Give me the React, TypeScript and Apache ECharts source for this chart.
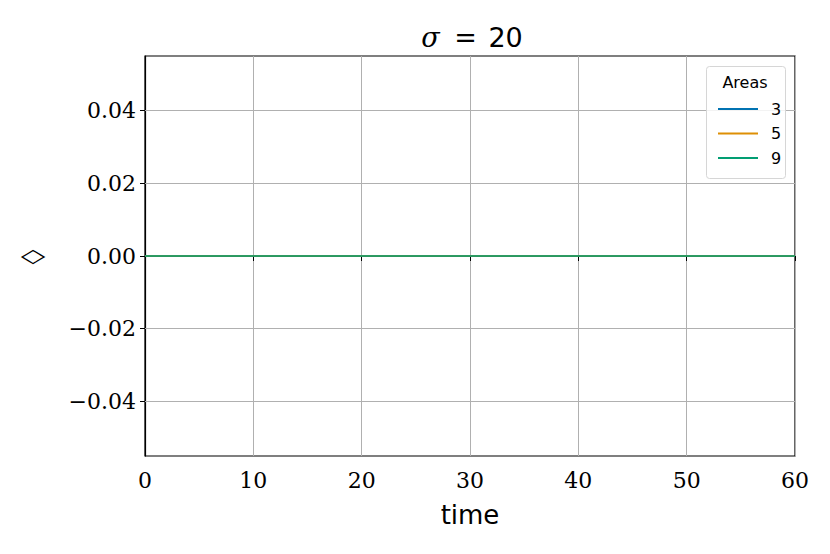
import React, { useEffect, useRef } from "react";
import * as echarts from "echarts";

const times = [0, 5, 10, 15, 20, 25, 30, 35, 40, 45, 50, 55, 60];
const area3 = [0, 0, 0, 0, 0, 0, 0, 0, 0, 0, 0, 0, 0];
const area5 = [0, 0, 0, 0, 0, 0, 0, 0, 0, 0, 0, 0, 0];
const area9 = [0, 0, 0, 0, 0, 0, 0, 0, 0, 0, 0, 0, 0];
const seriesNames = ["3", "5", "9"];
const seriesColors = ["#0173b2", "#de8f05", "#029e73"];
const yTicks = [-0.04, -0.02, 0, 0.02, 0.04];

const serif = "'DejaVu Serif', 'Liberation Serif', serif";
const sans = "'DejaVu Sans', sans-serif";

export default function App() {
  const ref = useRef<HTMLDivElement>(null);
  useEffect(() => {
    if (!ref.current) return;
    const chart = echarts.init(ref.current, undefined, { renderer: "svg" });
    const datas = [area3, area5, area9];
    const series: any[] = datas.map((d, i) => ({
      name: seriesNames[i],
      type: "line",
      data: times.map((t, j) => [t, d[j]]),
      showSymbol: false,
      lineStyle: { width: 1.6, color: seriesColors[i] },
      itemStyle: { color: seriesColors[i] },
      z: 3 + i,
    }));
    series[0].markLine = {
      silent: true,
      symbol: "none",
      label: { show: false },
      lineStyle: { color: "#b0b0b0", width: 1, type: "solid" },
      data: yTicks.filter((v) => v !== 0).map((v) => ({ yAxis: v })),
      z: 1,
    };
    const option: any = {
      animation: false,
      backgroundColor: "#fff",
      title: {
        text: "{s|σ} {e|=} 20",
        left: 467,
        textAlign: "center",
        top: 19,
        textStyle: {
          fontFamily: sans,
          fontSize: 27,
          fontWeight: "normal",
          color: "#000",
          rich: {
            s: { fontFamily: serif, fontStyle: "italic", fontSize: 27, color: "#000", padding: [0, 3, 0, 0] },
            e: { fontFamily: serif, fontSize: 27, color: "#000", padding: [0, 3, 0, 3] },
          },
        },
      },
      grid: {
        left: 145,
        right: 35,
        top: 56,
        bottom: 98,
        show: true,
        borderColor: "#000",
        borderWidth: 1.2,
        backgroundColor: "transparent",
      },
      xAxis: {
        type: "value",
        min: 0,
        max: 60,
        interval: 10,
        name: "time",
        nameLocation: "middle",
        nameGap: 46,
        nameTextStyle: { fontFamily: sans, fontSize: 26, color: "#000" },
        axisLine: { show: true, lineStyle: { color: "#000", width: 1.2 } },
        axisTick: { show: true, length: 5, lineStyle: { color: "#000" } },
        axisLabel: { fontFamily: serif, fontSize: 22, color: "#000", margin: 13 },
        splitLine: { show: true, lineStyle: { color: "#b0b0b0", width: 1 } },
      },
      yAxis: {
        type: "value",
        min: -0.055,
        max: 0.055,
        axisLine: { show: true, lineStyle: { color: "#000", width: 1.2 } },
        axisTick: { show: true, length: 5, lineStyle: { color: "#000" }, customValues: yTicks },
        axisLabel: {
          fontFamily: serif,
          fontSize: 22,
          color: "#000",
          margin: 9,
          customValues: yTicks,
          formatter: (v: number) => (v < -1e-9 ? "\u2212" : "") + Math.abs(v).toFixed(2),
        },
        splitLine: { show: false },
      },
      legend: {
        orient: "vertical",
        left: 713,
        top: 95,
        z: 30,
        data: seriesNames,
        icon: "rect",
        itemWidth: 40,
        itemHeight: 2,
        itemGap: 6.5,
        inactiveColor: "#ccc",
        textStyle: { fontFamily: sans, fontSize: 16, color: "#000", lineHeight: 18, padding: [0, 0, 0, 8] },
      },
      graphic: [
        {
          type: "rect",
          left: 706,
          top: 66,
          shape: { width: 79, height: 112, r: 3 },
          style: { fill: "rgba(255,255,255,0.85)", stroke: "#d6d6d6", lineWidth: 1 },
          z: 5,
        },
        {
          type: "text",
          x: 745,
          y: 82,
          style: { text: "Areas", fontFamily: sans, fontSize: 16, fill: "#000", textAlign: "center", textVerticalAlign: "middle" },
          z: 6,
        },
        {
          type: "text",
          x: 33,
          y: 256,
          scaleX: 1.6,
          scaleY: 0.95,
          style: { text: "◇", fontFamily: sans, fontSize: 20, fill: "#000", textAlign: "center", textVerticalAlign: "middle" },
        },
      ],
      series,
    };
    chart.setOption(option);
    return () => chart.dispose();
  }, []);
  return <div ref={ref} style={{ position: "absolute", left: 0, top: 0, width: 830, height: 554 }} />;
}
